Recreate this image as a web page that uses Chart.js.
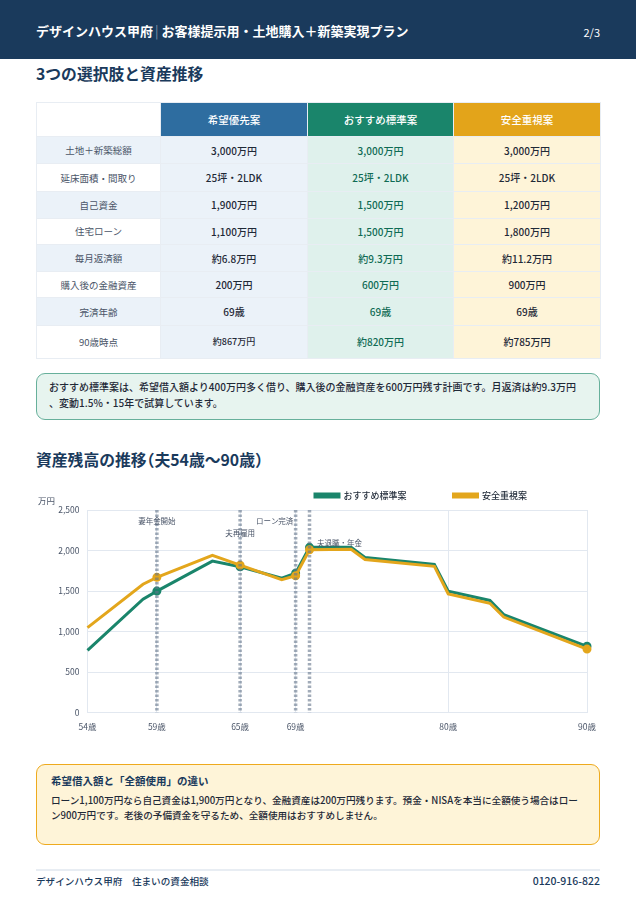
<!DOCTYPE html>
<html>
<head>
    <meta charset="utf-8">
    <title>3つの選択肢と資産推移</title>
    <script src="https://cdn.jsdelivr.net/npm/chart.js"></script>
    <style>
        html, body { margin: 0; padding: 0; background: #fff; }
        body { position: relative; width: 636px; height: 900px; overflow: hidden; font-family: "Noto Sans CJK JP", "Noto Sans", sans-serif; color: #1f2937; }
        .abs { position: absolute; white-space: nowrap; }
        #header { left: 0; top: 0; width: 636px; height: 59px; background: #1a3a5c; }
        #headTitle { left: 36px; top: 21px; font-size: 13px; line-height: 20px; font-weight: 700; color: #fff; }
        #headTitle i { font-style: normal; font-weight: 400; color: #7f95ab; margin: 0 3px 0 2px; }
        #headPage { right: 36px; top: 23px; font-size: 11px; line-height: 18px; color: #fff; }
        h2 { position: absolute; left: 36px; margin: 0; font-size: 15.8px; line-height: 24px; font-weight: 700; color: #1a3a5c; white-space: nowrap; }
        h2 span { font-feature-settings: "halt"; }
        table { position: absolute; left: 36px; top: 102px; width: 564px; height: 257px; border-collapse: collapse; table-layout: fixed; border: 1.5px solid #e2e8f0; }
        td, th { border: 1.5px solid #e8edf3; text-align: center; padding: 0; font-size: 10px; font-weight: 500; }
        th { font-size: 10.5px; color: #fff; font-weight: 500; }
        td.label { font-size: 9.5px; color: #4a5568; font-weight: 400; }
        .box { position: absolute; left: 36px; width: 564px; box-sizing: border-box; border-radius: 9px; }
        #note { top: 373px; height: 47px; background: #e7f4ef; border: 1.5px solid #67b09b; padding: 5px 12px; font-size: 10px; line-height: 16px; font-weight: 500; white-space: nowrap; }
        #warn { top: 764px; height: 81px; background: #fef4d8; border: 1.5px solid #eeaa1e; padding: 7px 14px; font-size: 9.6px; line-height: 14.5px; font-weight: 500; white-space: nowrap; }
        #warn b { display: block; font-size: 10.5px; line-height: 18px; color: #1a3a5c; font-weight: 700; margin-bottom: 3px; }
        #chartBox { position: absolute; left: 36px; top: 444px; width: 564px; height: 297px; }
        #footLine { left: 36px; top: 869px; width: 564px; height: 1.5px; background: #e8edf3; }
        #footLeft { left: 36px; top: 873px; font-size: 9.6px; line-height: 16px; font-weight: 500; color: #1a3a5c; }
        #footRight { right: 36px; top: 872px; font-size: 10.5px; line-height: 18px; font-weight: 500; color: #1a3a5c; }
    </style>
</head>
<body>
    <div class="abs" id="header"></div>
    <div class="abs" id="headTitle">デザインハウス甲府<i>|</i>お客様提示用・土地購入＋新築実現プラン</div>
    <div class="abs" id="headPage">2/3</div>

    <h2 style="top: 62px;">3つの選択肢と資産推移</h2>
    <table id="planTable"></table>

    <div class="box" id="note">おすすめ標準案は、希望借入額より400万円多く借り、購入後の金融資産を600万円残す計画です。月返済は約9.3万円<br>、変動1.5%・15年で試算しています。</div>

    <h2 style="top: 448px;">資産残高の推移<span>（</span>夫54歳〜90歳<span>）</span></h2>
    <div id="chartBox"><canvas id="assetChart"></canvas></div>

    <div class="box" id="warn"><b>希望借入額と「全額使用」の違い</b>ローン1,100万円なら自己資金は1,900万円となり、金融資産は200万円残ります。預金・NISAを本当に全額使う場合はロー<br>ン900万円です。老後の予備資金を守るため、全額使用はおすすめしません。</div>

    <div class="abs" id="footLine"></div>
    <div class="abs" id="footLeft">デザインハウス甲府　住まいの資金相談</div>
    <div class="abs" id="footRight">0120-916-822</div>

    <script>
        // table
        var planNames = ['希望優先案', 'おすすめ標準案', '安全重視案'];
        var rowLabels = ['土地＋新築総額', '延床面積・間取り', '自己資金', '住宅ローン', '毎月返済額', '購入後の金融資産', '完済年齢', '90歳時点'];
        var hopeValues = ['3,000万円', '25坪・2LDK', '1,900万円', '1,100万円', '約6.8万円', '200万円', '69歳', '約867万円'];
        var standardValues = ['3,000万円', '25坪・2LDK', '1,500万円', '1,500万円', '約9.3万円', '600万円', '69歳', '約820万円'];
        var safeValues = ['3,000万円', '25坪・2LDK', '1,200万円', '1,800万円', '約11.2万円', '900万円', '69歳', '約785万円'];

        // chart
        var ages = [54, 58, 59, 63, 65, 68, 69, 70, 73, 74, 79, 80, 83, 84, 90];
        var standardAssets = [770, 1400, 1500, 1870, 1800, 1660, 1720, 2040, 2040, 1915, 1830, 1500, 1385, 1210, 820];
        var safeAssets = [1050, 1585, 1670, 1940, 1820, 1640, 1690, 2010, 2015, 1890, 1805, 1465, 1350, 1180, 785];
        var xTickAges = [54, 59, 65, 69, 80, 90];
        var markerAges = [59, 65, 69, 70, 90];
        var eventAges = [59, 65, 69, 70];
        var eventLabels = ['妻年金開始', '夫再雇用', 'ローン完済', '夫退職・年金'];

        var headColors = ['#2e6da0', '#1a856b', '#e3a41a'];
        var cellColors = ['#ebf2f9', '#dff1ec', '#fef4d8'];
        var textColors = ['#1f2937', '#0f6b54', '#1f2937'];
        var rowHeights = [27, 27, 27, 26, 27, 26, 27, 33];

        var tableHtml = '<colgroup><col style="width:124px"><col style="width:147px"><col style="width:146px"><col style="width:147px"></colgroup>';
        tableHtml += '<tr style="height:34px"><th style="background:#fff"></th>';
        planNames.forEach(function (name, i) {
            tableHtml += '<th style="background:' + headColors[i] + '">' + name + '</th>';
        });
        tableHtml += '</tr>';
        rowLabels.forEach(function (label, r) {
            tableHtml += '<tr style="height:' + rowHeights[r] + 'px">';
            tableHtml += '<td class="label" style="background:' + (r % 2 ? '#fff' : '#ebf2f9') + '">' + label + '</td>';
            [hopeValues, standardValues, safeValues].forEach(function (values, i) {
                var small = (r === rowLabels.length - 1 && i === 0) ? ';font-size:9px' : '';
                tableHtml += '<td style="background:' + cellColors[i] + ';color:' + textColors[i] + small + '">' + values[r] + '</td>';
            });
            tableHtml += '</tr>';
        });
        document.getElementById('planTable').innerHTML = tableHtml;

        function toPoints(values) {
            return ages.map(function (age, i) { return { x: age, y: values[i] }; });
        }

        function markerRadius(ctx) {
            return markerAges.indexOf(ctx.raw.x) >= 0 ? 3 : 0;
        }

        var fontFamily = '"Noto Sans CJK JP", "Noto Sans", sans-serif';

        // dotted event lines and their labels go over the series
        var eventPlugin = {
            id: 'eventLines',
            afterDatasetsDraw: function (chart) {
                var c = chart.ctx, area = chart.chartArea;
                var dx = [0, 0, -21, 30];
                var dy = [11, 23, 11, 33];
                c.save();
                c.strokeStyle = 'rgba(100,116,139,0.6)';
                c.lineWidth = 3.5;
                c.setLineDash([2.5, 2]);
                eventAges.forEach(function (age) {
                    var x = chart.scales.x.getPixelForValue(age);
                    c.beginPath();
                    c.moveTo(x, area.top);
                    c.lineTo(x, area.bottom);
                    c.stroke();
                });
                c.setLineDash([]);
                c.font = '400 7.5px ' + fontFamily;
                c.fillStyle = '#4a5568';
                c.textAlign = 'center';
                c.textBaseline = 'middle';
                eventLabels.forEach(function (label, i) {
                    c.fillText(label, chart.scales.x.getPixelForValue(eventAges[i]) + dx[i], area.top + dy[i]);
                });
                c.font = '400 8.5px ' + fontFamily;
                c.textAlign = 'left';
                c.fillText('万円', 2, area.top - 9);
                c.restore();
            },
            afterLayout: function (chart) {
                chart.legend.left += 109.5;
                chart.legend.right += 109.5;
            }
        };

        new Chart(document.getElementById('assetChart'), {
            type: 'line',
            data: {
                datasets: [{
                    label: planNames[1],
                    data: toPoints(standardAssets),
                    borderColor: '#1a856b',
                    backgroundColor: '#1a856b',
                    borderWidth: 3,
                    pointRadius: markerRadius,
                    pointHoverRadius: markerRadius,
                    clip: false,
                    order: 2
                }, {
                    label: planNames[2],
                    data: toPoints(safeAssets),
                    borderColor: '#e3a61c',
                    backgroundColor: '#e3a61c',
                    borderWidth: 3,
                    pointRadius: markerRadius,
                    pointHoverRadius: markerRadius,
                    clip: false,
                    order: 1
                }]
            },
            options: {
                responsive: true,
                maintainAspectRatio: false,
                animation: false,
                layout: { padding: { right: 13, bottom: 0 } },
                plugins: {
                    legend: {
                        position: 'top',
                        reverse: true,
                        labels: {
                            boxWidth: 24,
                            boxHeight: 3,
                            padding: 47,
                            color: '#1f2937',
                            font: { family: fontFamily, size: 9, weight: 500 }
                        }
                    },
                    tooltip: { enabled: false }
                },
                scales: {
                    x: {
                        type: 'linear',
                        min: 54,
                        max: 90,
                        afterBuildTicks: function (axis) {
                            axis.ticks = xTickAges.map(function (v) { return { value: v }; });
                        },
                        afterFit: function (axis) {
                            axis.paddingLeft = 0;
                            axis.paddingRight = 0;
                        },
                        grid: { color: '#e2e8f0', drawTicks: false },
                        border: { color: '#e2e8f0' },
                        ticks: {
                            autoSkip: false,
                            maxRotation: 0,
                            padding: 9,
                            color: '#4a5568',
                            font: { family: fontFamily, size: 8.5 },
                            callback: function (v) { return v + '歳'; }
                        }
                    },
                    y: {
                        min: 0,
                        max: 2500,
                        afterFit: function (axis) { axis.width = 51.5; },
                        grid: { color: '#e2e8f0', drawTicks: false },
                        border: { color: '#e2e8f0' },
                        ticks: {
                            stepSize: 500,
                            padding: 8,
                            color: '#4a5568',
                            font: { family: fontFamily, size: 8.5 },
                            callback: function (v) { return v.toLocaleString('en-US'); }
                        }
                    }
                }
            },
            plugins: [eventPlugin]
        });
    </script>
</body>
</html>
